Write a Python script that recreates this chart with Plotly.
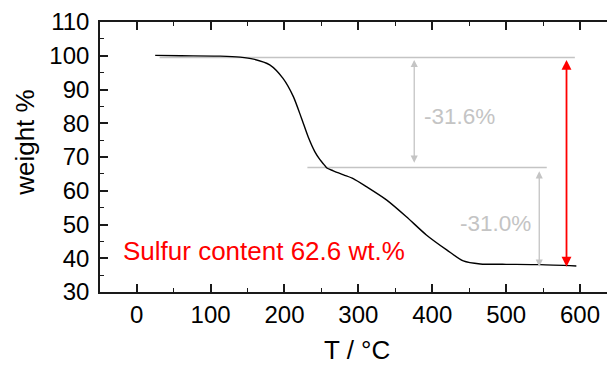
import plotly.graph_objects as go

# TGA curve
temperature_c = [25, 60, 113, 140, 158, 180, 198, 212, 223, 232, 241, 248, 253, 257, 266, 280,
                 293, 311, 338, 365, 392, 420, 442, 465, 500, 546, 595]
weight_pct = [100.1, 100.0, 99.9, 99.6, 99.0, 97.3, 93.3, 87.9, 81.5, 76.0, 71.6, 69.2, 67.9, 66.8,
              65.9, 64.7, 63.6, 61.2, 57.3, 52.3, 46.9, 42.4, 39.2, 38.3, 38.2, 38.1, 37.7]

# Step-level guide lines (weight %) and their x spans (°C)
level_start = 99.5
level_mid = 66.9
level_end = 37.6
guide1_x = [31, 593]
guide2_x = [231, 555]

# Arrows
arrow1_x = 375.6
arrow2_x = 544.8
arrow_total_x = 581.7

step_labels = ["-31.6%", "-31.0%"]
step_label_pos = [(437, 82.1), (486, 50.3)]
total_label = "Sulfur content 62.6 wt.%"
total_label_pos = (-21, 42.1)

x_ticks = [0, 100, 200, 300, 400, 500, 600]
y_ticks = [30, 40, 50, 60, 70, 80, 90, 100, 110]

FONT = "Arial, Liberation Sans, sans-serif"
GRAY = "#c4c4c4"
AX = "#1a1a1a"

fig = go.Figure()

fig.add_trace(go.Scatter(x=guide1_x, y=[level_start, level_start], mode="lines",
                         line=dict(color=GRAY, width=1.5), hoverinfo="skip"))
fig.add_trace(go.Scatter(x=guide2_x, y=[level_mid, level_mid], mode="lines",
                         line=dict(color=GRAY, width=1.5), hoverinfo="skip"))
fig.add_trace(go.Scatter(x=temperature_c, y=weight_pct, mode="lines",
                         line=dict(color="black", width=1.4, shape="spline", smoothing=0.7)))

annotations = []


def darrow(x, y0, y1, color, width):
    return dict(x=x, y=y1, ax=x, ay=y0, xref="x", yref="y", axref="x", ayref="y",
                text="", showarrow=True, arrowside="end+start", arrowhead=2, startarrowhead=2,
                arrowsize=1.1, startarrowsize=1.1, arrowwidth=width, arrowcolor=color,
                standoff=0, startstandoff=0)


annotations.append(darrow(arrow1_x, 99.2, 68.3, GRAY, 1.3))
annotations.append(darrow(arrow2_x, 66.2, 37.5, GRAY, 1.3))
annotations.append(darrow(arrow_total_x, 99.2, 37.5, "#ff0000", 1.8))

for lab, (lx, ly) in zip(step_labels, step_label_pos):
    annotations.append(dict(x=lx, y=ly, xref="x", yref="y", text=lab, showarrow=False,
                            xanchor="center", yanchor="middle",
                            font=dict(family=FONT, size=22.5, color=GRAY)))

annotations.append(dict(x=total_label_pos[0], y=total_label_pos[1], xref="x", yref="y",
                        text=total_label, showarrow=False, xanchor="left", yanchor="middle",
                        font=dict(family=FONT, size=26, color="#ff0000")))

annotations.append(dict(x=-0.148, y=0.556, xref="paper", yref="paper", text="weight %",
                        textangle=-90, showarrow=False, xanchor="center", yanchor="middle",
                        font=dict(family=FONT, size=26, color="black")))
annotations.append(dict(x=0.507, y=-0.213, xref="paper", yref="paper", text="T / °C",
                        showarrow=False, xanchor="center", yanchor="middle",
                        font=dict(family=FONT, size=26, color="black")))

fig.update_layout(
    width=607, height=367,
    margin=dict(l=100, r=0, t=22, b=75),
    plot_bgcolor="white", paper_bgcolor="white",
    showlegend=False,
    annotations=annotations,
    font=dict(family=FONT, size=24, color="black"),
    xaxis=dict(range=[-49.7, 636.5], tickvals=x_ticks, ticks="inside", ticklen=8, tickwidth=1.5,
               tickcolor=AX, showline=True, linecolor=AX, linewidth=1.6, mirror="ticks",
               showgrid=False, zeroline=False, tickfont=dict(family=FONT, size=24, color="black"),
               minor=dict(dtick=50, tick0=0, ticks="inside", ticklen=4, tickwidth=1.2, tickcolor=AX)),
    yaxis=dict(range=[30, 110], tickvals=y_ticks, ticks="inside", ticklen=8, tickwidth=1.5,
               tickcolor=AX, showline=True, linecolor=AX, linewidth=1.6, mirror=False,
               ticklabelstandoff=4,
               showgrid=False, zeroline=False, tickfont=dict(family=FONT, size=24, color="black"),
               minor=dict(dtick=5, tick0=0, ticks="inside", ticklen=4, tickwidth=1.2, tickcolor=AX)),
)

fig.write_html("out.html")
